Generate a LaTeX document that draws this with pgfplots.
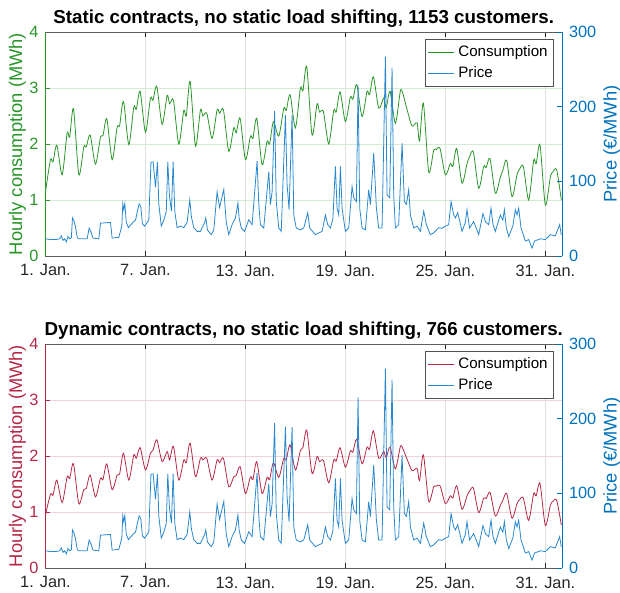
\documentclass[border=0pt]{standalone}
\usepackage{fontspec}
\setmainfont{Liberation Sans}
\usepackage{pgfplots}
\usepackage{pgfplotstable}
\pgfplotsset{compat=1.18}
\definecolor{cgreen}{RGB}{40,150,40}
\definecolor{cred}{RGB}{180,40,70}
\definecolor{pblue}{RGB}{0,114,189}
\definecolor{plight}{RGB}{40,135,205}
\definecolor{axgray}{RGB}{38,38,38}

\pgfplotstableread[row sep=\\]{
d v\\
0 1.15\\ 0.3 1.72\\ 0.45 1.68\\ 0.68 1.98\\
1 1.45\\ 1.3 2.2\\ 1.45 2.12\\ 1.68 2.63\\
2 1.45\\ 2.3 1.95\\ 2.45 1.95\\ 2.68 2.16\\
3 1.64\\ 3.3 2.12\\ 3.45 2.15\\ 3.68 2.45\\
4 1.72\\ 4.3 2.3\\ 4.45 2.33\\ 4.68 2.76\\
5 1.99\\ 5.3 2.66\\ 5.45 2.62\\ 5.68 2.94\\
6 2.21\\ 6.3 2.82\\ 6.45 2.78\\ 6.68 3.03\\
7 2.35\\ 7.3 2.87\\ 7.45 2.72\\ 7.68 2.78\\
8 2.0\\ 8.3 2.6\\ 8.45 2.5\\ 8.68 3.12\\
9 1.96\\ 9.3 2.61\\ 9.45 2.5\\ 9.68 2.55\\
10 2.1\\ 10.3 2.61\\ 10.45 2.55\\ 10.68 2.61\\
11 1.87\\ 11.3 2.29\\ 11.45 2.2\\ 11.68 2.46\\
12 1.72\\ 12.3 2.14\\ 12.45 2.1\\ 12.68 2.46\\
13 1.63\\ 13.3 2.05\\ 13.45 2.0\\ 13.68 2.4\\
14 2.14\\ 14.3 2.64\\ 14.45 2.6\\ 14.68 2.88\\
15 2.29\\ 15.3 3.0\\ 15.45 2.95\\ 15.68 3.38\\
16 2.16\\ 16.3 2.72\\ 16.45 2.57\\ 16.68 2.58\\
17 2.0\\ 17.3 2.6\\ 17.45 2.57\\ 17.68 2.93\\
18 2.4\\ 18.3 2.84\\ 18.45 2.8\\ 18.68 3.06\\
19 2.49\\ 19.3 2.94\\ 19.45 2.88\\ 19.68 3.2\\
20 2.64\\ 20.3 2.82\\ 20.45 2.65\\ 20.68 2.94\\
21 2.37\\ 21.3 2.95\\ 21.45 2.9\\ 21.68 2.64\\
22 2.32\\ 22.3 2.38\\ 22.45 2.05\\ 22.68 2.73\\
23 1.5\\ 23.3 1.89\\ 23.45 1.9\\ 23.68 1.92\\
24 1.45\\ 24.3 1.65\\ 24.45 1.6\\ 24.68 1.92\\
25 1.3\\ 25.3 1.65\\ 25.45 1.77\\ 25.68 1.86\\
26 1.21\\ 26.3 1.6\\ 26.45 1.58\\ 26.68 1.74\\
27 1.12\\ 27.3 1.41\\ 27.45 1.53\\ 27.68 1.71\\
28 1.06\\ 28.3 1.45\\ 28.45 1.55\\ 28.68 1.6\\
29 1.0\\ 29.3 1.71\\ 29.45 1.65\\ 29.68 1.98\\
30 0.91\\ 30.3 1.41\\ 30.45 1.5\\ 30.68 1.54\\
30.96 1.0\\
}\staticcons

\pgfplotstableread[row sep=\\]{
d v\\
0 0.95\\ 0.3 1.32\\ 0.45 1.3\\ 0.68 1.57\\
1 1.17\\ 1.3 1.63\\ 1.45 1.6\\ 1.68 1.86\\
2 1.15\\ 2.3 1.4\\ 2.45 1.42\\ 2.68 1.66\\
3 1.27\\ 3.3 1.6\\ 3.45 1.58\\ 3.68 1.86\\
4 1.4\\ 4.3 1.66\\ 4.45 1.68\\ 4.68 2.05\\
5 1.57\\ 5.3 2.02\\ 5.45 1.96\\ 5.68 2.15\\
6 1.75\\ 6.3 2.05\\ 6.45 2.1\\ 6.68 2.29\\
7 1.9\\ 7.3 2.08\\ 7.45 1.93\\ 7.68 2.17\\
8 1.57\\ 8.3 1.93\\ 8.45 1.88\\ 8.68 2.23\\
9 1.63\\ 9.3 1.96\\ 9.45 1.93\\ 9.68 1.96\\
10 1.57\\ 10.3 1.93\\ 10.45 1.88\\ 10.68 1.96\\
11 1.45\\ 11.3 1.63\\ 11.45 1.65\\ 11.68 1.81\\
12 1.33\\ 12.3 1.63\\ 12.45 1.58\\ 12.68 1.9\\
13 1.33\\ 13.3 1.62\\ 13.45 1.58\\ 13.68 1.88\\
14 1.62\\ 14.3 1.96\\ 14.45 1.93\\ 14.68 2.2\\
15 1.75\\ 15.3 2.1\\ 15.45 2.15\\ 15.68 2.46\\
16 1.69\\ 16.3 1.99\\ 16.45 1.9\\ 16.68 1.92\\
17 1.52\\ 17.3 1.93\\ 17.45 1.91\\ 17.68 2.15\\
18 1.8\\ 18.3 2.09\\ 18.45 2.07\\ 18.68 2.3\\
19 1.86\\ 19.3 2.16\\ 19.45 2.12\\ 19.68 2.45\\
20 1.96\\ 20.3 2.08\\ 20.45 1.97\\ 20.68 2.16\\
21 1.77\\ 21.3 2.17\\ 21.45 2.13\\ 21.68 1.96\\
22 1.74\\ 22.3 1.78\\ 22.45 1.56\\ 22.68 2.02\\
23 1.19\\ 23.3 1.45\\ 23.45 1.46\\ 23.68 1.47\\
24 1.15\\ 24.3 1.29\\ 24.45 1.25\\ 24.68 1.47\\
25 1.05\\ 25.3 1.29\\ 25.45 1.37\\ 25.68 1.43\\
26 0.99\\ 26.3 1.25\\ 26.45 1.24\\ 26.68 1.35\\
27 0.93\\ 27.3 1.12\\ 27.45 1.21\\ 27.68 1.33\\
28 0.89\\ 28.3 1.15\\ 28.45 1.22\\ 28.68 1.25\\
29 0.85\\ 29.3 1.33\\ 29.45 1.29\\ 29.68 1.51\\
30 0.76\\ 30.3 1.12\\ 30.45 1.19\\ 30.68 1.21\\
30.96 0.77\\
}\dyncons

\pgfplotstableread[row sep=\\]{
d p\\
0 23\\ 0.3 22\\ 0.6 22\\ 0.85 23\\ 0.95 27\\ 1.05 21\\ 1.15 23\\ 1.25 19\\ 1.35 26\\ 1.45 23\\
1.55 24\\ 1.62 51\\ 1.7 48\\ 1.8 39\\ 1.9 25\\ 2.0 23\\ 2.5 23\\ 2.62 37.5\\ 2.72 33\\ 2.85 24\\
3.2 23\\ 3.3 44\\ 3.9 45\\ 4.0 24\\ 4.4 25\\ 4.58 40\\ 4.64 70\\ 4.7 62\\ 4.76 70\\ 4.85 45\\
4.98 38\\ 5.2 44\\ 5.4 48\\ 5.62 70\\ 5.72 66\\ 5.82 43\\ 5.95 40\\ 6.2 48\\ 6.33 126\\ 6.46 126\\
6.6 92\\ 6.72 126\\ 6.8 70\\ 6.95 40\\ 7.1 48\\ 7.25 60\\ 7.34 126\\ 7.44 80\\ 7.56 60\\ 7.66 126\\
7.76 60\\ 7.9 38\\ 8.1 40\\ 8.3 38\\ 8.5 45\\ 8.66 75\\ 8.76 52\\ 8.9 38\\ 9.1 33\\ 9.3 33\\
9.55 45\\ 9.62 51\\ 9.72 35\\ 9.95 28.6\\ 10.1 35\\ 10.3 86\\ 10.45 65\\ 10.7 89\\ 10.85 45\\ 11.0 28.6\\
11.2 42\\ 11.4 51\\ 11.55 71\\ 11.62 51\\ 11.75 37.5\\ 11.95 33\\ 12.2 48.6\\ 12.4 42\\ 12.7 127\\ 12.8 70\\
12.9 42\\ 13.1 37.5\\ 13.4 113\\ 13.5 69\\ 13.6 86\\ 13.75 194\\ 13.85 73\\ 14.0 37.5\\ 14.15 33\\ 14.4 189\\
14.5 96\\ 14.62 62\\ 14.8 189\\ 14.9 55\\ 15.05 37.5\\ 15.3 35\\ 15.5 37.5\\ 15.74 58\\ 15.86 37.5\\ 16.2 28.6\\
16.6 33\\ 16.8 55\\ 16.94 42\\ 17.1 37.5\\ 17.25 50\\ 17.4 120\\ 17.5 64\\ 17.6 55\\ 17.7 120\\ 17.8 64\\
18.0 33\\ 18.2 37.5\\ 18.4 93\\ 18.5 78\\ 18.66 73\\ 18.76 229\\ 18.86 64\\ 19.0 37.5\\ 19.2 35\\ 19.4 89\\
19.5 69\\ 19.7 138\\ 19.86 64\\ 20.0 37.5\\ 20.2 37.5\\ 20.4 267\\ 20.5 82\\ 20.66 78\\ 20.8 252\\ 20.9 82\\
21.0 37.5\\ 21.2 42\\ 21.4 151\\ 21.54 73\\ 21.66 69\\ 21.8 89\\ 21.9 55\\ 22.1 37.5\\ 22.3 40\\ 22.5 33\\
22.7 60\\ 22.86 42\\ 23.1 28.6\\ 23.3 31\\ 23.6 38\\ 23.8 37\\ 24.0 40\\ 24.2 42\\ 24.34 73\\ 24.5 55\\
24.6 51\\ 24.74 58\\ 24.86 47\\ 25.0 33\\ 25.2 45\\ 25.3 62\\ 25.45 37.5\\ 25.7 46\\ 25.85 37.5\\ 26.0 28.6\\
26.26 57\\ 26.4 46\\ 26.6 42\\ 26.74 64\\ 26.86 42\\ 27.0 33\\ 27.2 48\\ 27.3 55\\ 27.45 48\\ 27.54 62\\
27.66 37.5\\ 27.8 26\\ 28.05 40\\ 28.2 62\\ 28.3 55\\ 28.4 64\\ 28.54 37.5\\ 28.8 20\\ 29.0 22\\ 29.2 10.7\\
29.35 20\\ 29.7 23\\ 30.0 22\\ 30.3 28.6\\ 30.6 27\\ 30.86 42\\ 30.96 28\\
}\price

\pgfplotsset{
  base/.style={
    scale only axis, width=258.25bp, height=112bp,
    xmin=0, xmax=31,
    tick align=inside, major tick length=2.5bp,
    /pgf/number format/assume math mode=true,
    tick label style={font=\fontsize{8.2}{9}\selectfont},
  },
  leftax/.style={
    base,
    axis x line*=box, axis y line*=left,
    ymin=0, ymax=4, ytick={0,1,2,3,4},
    xtick={0,6,12,18,24,30},
    xticklabels={1. Jan.,7. Jan.,13. Jan.,19. Jan.,25. Jan.,31. Jan.},
    xmajorgrids, ymajorgrids,
    x grid style={black!12, line width=0.4pt},
    y grid style={#1!20, line width=0.4pt},
    x axis line style={draw=axgray!75, line width=0.4pt},
    y axis line style={draw=#1, line width=0.4pt},
    xtick style={draw=axgray, line width=0.4pt},
    ytick style={draw=#1, line width=0.4pt},
    x tick label style={text=axgray, yshift=-0.8bp},
    y tick label style={text=#1},
    ylabel={Hourly consumption (MWh)},
    ylabel style={at={([xshift=-14bp]axis description cs:0,0.5)}, anchor=center,
      text=#1, font=\fontsize{9.2}{10}\selectfont},
    title style={at={(axis description cs:0.5,1)}, anchor=base, yshift=-1.5bp,
      font=\bfseries\fontsize{9.4}{11}\selectfont},
  },
  rightax/.style={
    base,
    axis y line*=right, axis x line=none,
    ymin=0, ymax=300, ytick={0,100,200,300},
    y axis line style={draw=pblue, line width=0.4pt},
    ytick style={draw=pblue, line width=0.4pt},
    y tick label style={text=pblue},
    ylabel={Price (€/MWh)},
    ylabel style={at={([xshift=25bp]axis description cs:1,0.5)}, anchor=center,
      text=pblue, font=\fontsize{9.2}{10}\selectfont},
    legend style={at={([xshift=-4bp,yshift=-3.5bp]axis description cs:1,1)},
      anchor=north east, draw=axgray!80, fill=white, line width=0.4pt,
      font=\fontsize{7.6}{8.6}\selectfont, inner sep=1bp, row sep=-0.5bp},
    legend cell align=left,
    legend image code/.code={\draw[##1] (0bp,0bp) -- (13bp,0bp);},
  },
}

\begin{document}
\begin{tikzpicture}
\path[use as bounding box] (-22.75bp,-168.5bp) rectangle (287.25bp,128bp);

% top subplot
\begin{axis}[leftax=cgreen, at={(0,0)}, anchor=south west,
  title={Static contracts, no static load shifting, 1153 customers.}]
\addplot[cgreen, line width=0.4pt, smooth, tension=0.45] table[x=d, y=v] {\staticcons};
\end{axis}
\begin{axis}[rightax, at={(0,0)}, anchor=south west]
\addlegendimage{cgreen, line width=0.4pt}
\addlegendentry{Consumption}
\addplot[plight, line width=0.4pt] table[x=d, y=p] {\price};
\addlegendentry{Price}
\end{axis}

% bottom subplot
\begin{axis}[leftax=cred, at={(0,-156bp)}, anchor=south west,
  title={Dynamic contracts, no static load shifting, 766 customers.}]
\addplot[cred, line width=0.4pt, smooth, tension=0.45] table[x=d, y=v] {\dyncons};
\end{axis}
\begin{axis}[rightax, at={(0,-156bp)}, anchor=south west]
\addlegendimage{cred, line width=0.4pt}
\addlegendentry{Consumption}
\addplot[plight, line width=0.4pt] table[x=d, y=p] {\price};
\addlegendentry{Price}
\end{axis}
\end{tikzpicture}
\end{document}
